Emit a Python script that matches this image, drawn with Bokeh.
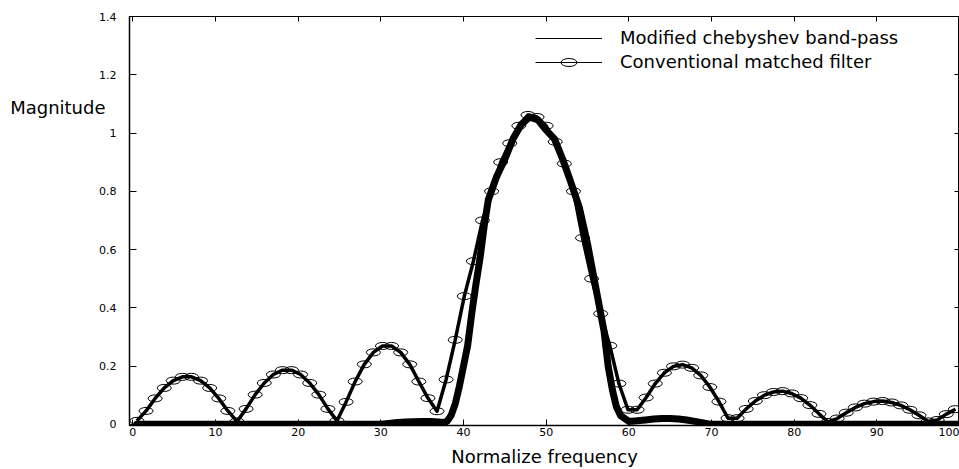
from bokeh.plotting import figure
from bokeh.models import (Range1d, LinearAxis, FixedTicker, Legend, LegendItem, Label,
                          CustomLabelingPolicy)
from bokeh.embed import file_html
from bokeh.resources import INLINE

# ---- tick labels ----
x_ticks = [0, 10, 20, 30, 40, 50, 60, 70, 80, 90, 100]
x_tick_labels = ["0", "10", "20", "30", "40", "50", "60", "70", "80", "90", "100"]
y_ticks = [0, 0.2, 0.4, 0.6, 0.8, 1.0, 1.2, 1.4]
y_tick_labels = ["0", "0.2", "0.4", "0.6", "0.8", "1", "1.2", "1.4"]

# ---- Conventional matched filter (sampled every 1.1 frequency units) ----
matched_x = [round(0.5 + 1.1 * k, 1) for k in range(91)]
matched_y = [
    0.012, 0.046, 0.089, 0.125, 0.150, 0.163, 0.163, 0.150, 0.125, 0.089,
    0.046, 0.010, 0.053, 0.102, 0.142, 0.171, 0.186, 0.186, 0.171, 0.142,
    0.102, 0.053, 0.012, 0.077, 0.147, 0.206, 0.247, 0.269, 0.269, 0.247,
    0.206, 0.147, 0.090, 0.045, 0.154, 0.290, 0.440, 0.560, 0.700, 0.800,
    0.900, 0.965, 1.025, 1.062, 1.055, 1.025, 0.970, 0.895, 0.800, 0.640,
    0.500, 0.380, 0.270, 0.140, 0.050, 0.050, 0.092, 0.140, 0.177, 0.199,
    0.205, 0.194, 0.168, 0.128, 0.078, 0.021, 0.021, 0.053, 0.080, 0.100,
    0.111, 0.114, 0.106, 0.090, 0.066, 0.036, 0.008, 0.020, 0.040, 0.058,
    0.071, 0.078, 0.080, 0.075, 0.065, 0.050, 0.031, 0.010, 0.015, 0.035,
    0.052,
]

# ---- Modified chebyshev band-pass ----
cheb_x = [0.5, 5, 10, 15, 20, 25, 30, 31, 32, 33, 34, 35, 36, 37, 37.5, 38,
          38.5, 39, 39.5, 40, 40.5, 41, 41.5, 42, 42.5, 43, 44, 45, 46, 47,
          48, 49, 50, 51, 52, 53, 54, 55, 56, 57, 57.5, 58, 58.5, 59, 60,
          61, 62, 63, 64, 65, 66, 67, 68, 69, 70, 75, 80, 85, 90, 95, 100]
cheb_y = [0.0, 0.0, 0.0, 0.0, 0.0, 0.0, 0.0, 0.003, 0.006, 0.008, 0.009, 0.010,
          0.010, 0.008, 0.006, 0.010, 0.030, 0.070, 0.130, 0.200, 0.270, 0.380,
          0.480, 0.570, 0.680, 0.770, 0.850, 0.910, 0.980, 1.030, 1.055, 1.045,
          1.010, 0.980, 0.910, 0.830, 0.746, 0.620, 0.470, 0.320, 0.200, 0.120,
          0.060, 0.030, 0.010, 0.012, 0.015, 0.018, 0.020, 0.020, 0.018, 0.015,
          0.010, 0.005, 0.0, 0.0, 0.0, 0.0, 0.0, 0.0, 0.0]

FONT = "DejaVu Sans"

p = figure(width=959, height=469,
           x_range=Range1d(-0.4, 100), y_range=Range1d(-0.004, 1.4),
           output_backend="svg", toolbar_location=None,
           min_border_left=129, min_border_right=0,
           min_border_top=16, min_border_bottom=44)
p.xgrid.visible = False
p.ygrid.visible = False
p.outline_line_color = "black"
p.outline_line_width = 1
p.background_fill_color = "white"
p.border_fill_color = "white"

xa = p.xaxis[0]
xa.ticker = FixedTicker(ticks=x_ticks)
xa.major_label_overrides = dict(zip(x_ticks, x_tick_labels))
xa.major_tick_in = 6
xa.major_tick_out = 0
xa.minor_tick_line_color = None
xa.axis_line_width = 1.5
xa.major_label_text_font = FONT
xa.major_label_text_font_size = "11px"
xa.major_label_text_color = "black"
xa.major_label_standoff = 2
xa.axis_label = "Normalize frequency"
xa.axis_label_text_font = FONT
xa.axis_label_text_font_size = "18px"
xa.axis_label_text_font_style = "normal"
xa.axis_label_text_color = "black"
xa.axis_label_standoff = 7

ya = p.yaxis[0]
ya.ticker = FixedTicker(ticks=y_ticks)
ya.major_label_overrides = dict(zip(y_ticks, y_tick_labels))
ya.major_tick_in = 7
ya.major_tick_out = 0
ya.minor_tick_line_color = None
ya.axis_line_width = 1.5
ya.major_label_text_font = FONT
ya.major_label_text_font_size = "11px"
ya.major_label_text_color = "black"
ya.major_label_standoff = 13

no_labels = "return []"
top = LinearAxis(ticker=FixedTicker(ticks=x_ticks), major_tick_in=5, major_tick_out=0,
                 minor_tick_line_color=None, major_label_text_font_size="1px",
                 major_label_overrides={t: "" for t in x_ticks},
                 major_label_standoff=0, axis_label_standoff=0, axis_line_color="black",
                 major_label_policy=CustomLabelingPolicy(code=no_labels))
right = LinearAxis(ticker=FixedTicker(ticks=y_ticks), major_tick_in=5, major_tick_out=0,
                   minor_tick_line_color=None, major_label_text_font_size="1px",
                   major_label_overrides={t: "" for t in y_ticks},
                   major_label_standoff=0, axis_label_standoff=0, axis_line_color="black",
                   major_label_policy=CustomLabelingPolicy(code=no_labels))
p.add_layout(top, "above")
p.add_layout(right, "right")

cheb_thick = p.line(cheb_x, cheb_y, line_width=7, line_color="black",
                    line_join="round", line_cap="round")
match_line = p.line(matched_x, matched_y, line_width=3.5, line_color="black",
                    line_join="round")
match_marks = p.ellipse(x=matched_x, y=matched_y, width=14, height=7,
                        width_units="screen", height_units="screen",
                        fill_color=None, line_color="black", line_width=1)
cheb_leg = p.line(cheb_x, cheb_y, line_width=1, line_color="black")
match_leg = p.line(matched_x, matched_y, line_width=1, line_color="black")

legend = Legend(items=[
    LegendItem(label="Modified chebyshev band-pass", renderers=[cheb_leg]),
    LegendItem(label="Conventional matched filter", renderers=[match_leg, match_marks]),
], location=(406, 353))
legend.label_text_font = FONT
legend.label_text_font_size = "18px"
legend.label_text_color = "black"
legend.glyph_width = 67
legend.glyph_height = 20
legend.label_height = 20
legend.label_standoff = 18
legend.spacing = 3
legend.padding = 0
legend.margin = 0
legend.border_line_color = None
legend.background_fill_alpha = 0
p.add_layout(legend)

p.add_layout(Label(x=-3.3, y=1.087, text="Magnitude", text_align="right",
                   text_baseline="middle", text_font=FONT, text_font_size="18px",
                   text_color="black"), "left")

open("out.html", "w").write(file_html(p, INLINE))
